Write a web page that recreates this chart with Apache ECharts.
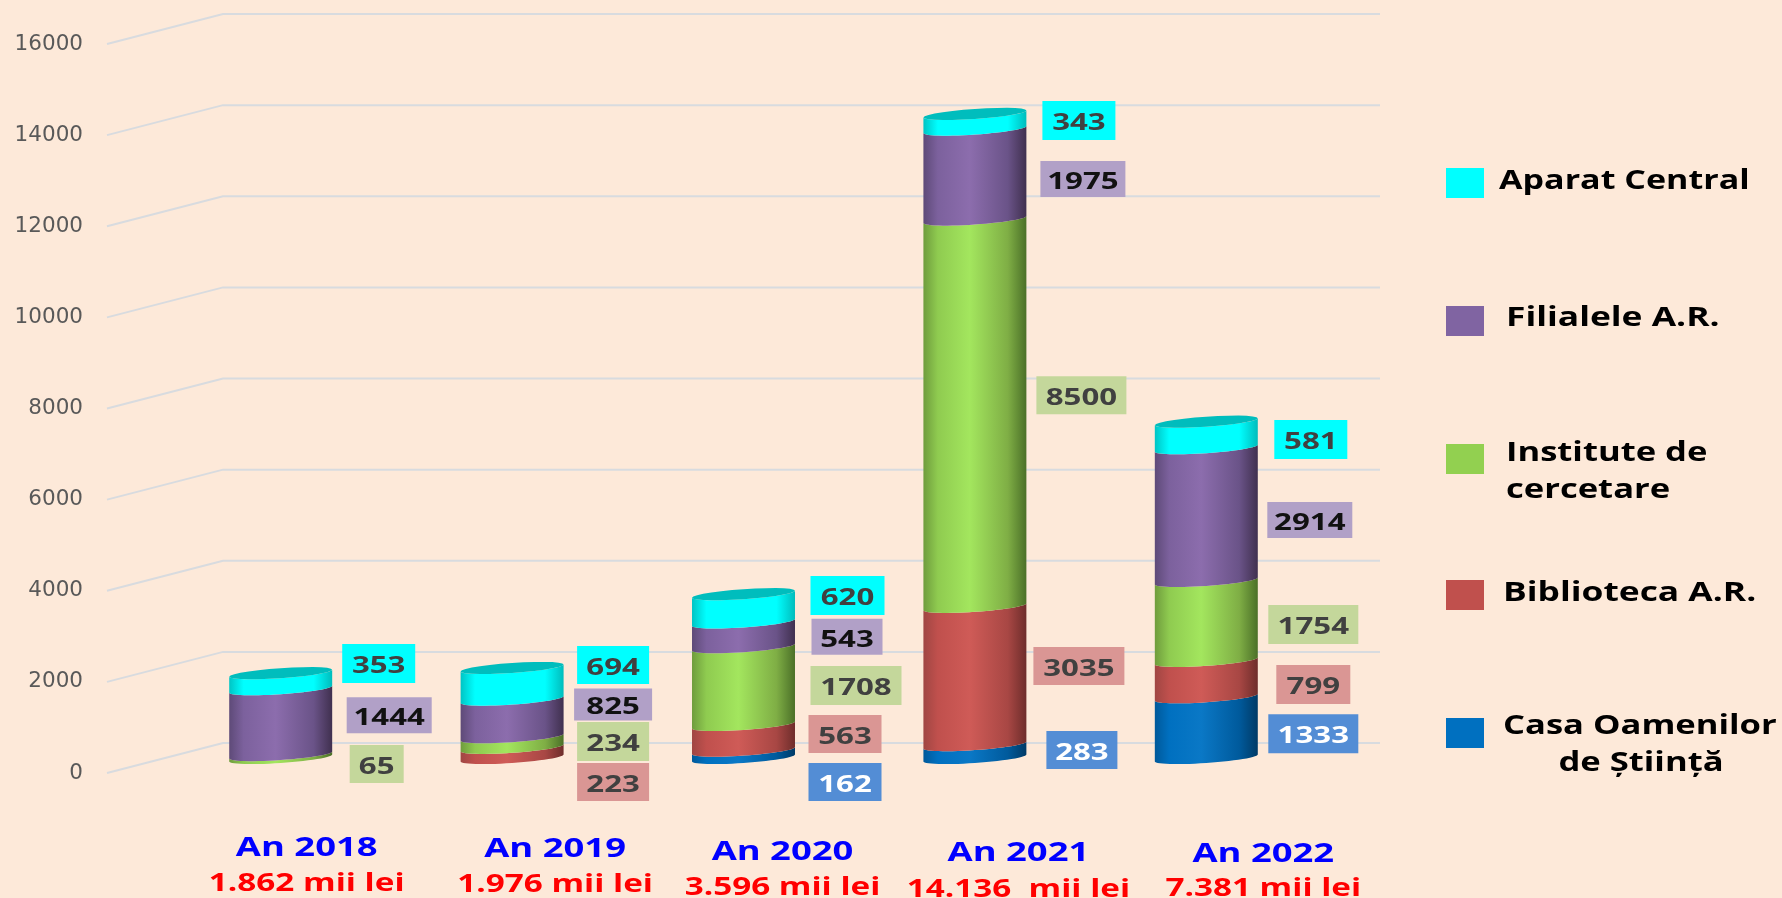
<!DOCTYPE html>
<html><head><meta charset="utf-8">
<style>html,body{margin:0;padding:0;background:#FDE9D9}#c{width:1782px;height:898px}</style>
<script src="https://cdn.jsdelivr.net/npm/echarts@6/dist/echarts.min.js"></script>
</head><body><div id="c"></div>
<script>
// ---- data ----
const categories = ['An 2018','An 2019','An 2020','An 2021','An 2022'];
const totals = ['1.862 mii lei','1.976 mii lei','3.596 mii lei','14.136  mii lei','7.381 mii lei'];
const yTicks = [0,2000,4000,6000,8000,10000,12000,14000,16000];
const casaOamenilor = [0,0,162,283,1333];
const biblioteca = [0,223,563,3035,799];
const institute = [65,234,1708,8500,1754];
const filialele = [1444,825,543,1975,2914];
const aparatCentral = [353,694,620,343,581];

// ---- presentation ----
const DEPTH_X = 116, DEPTH_Y = 30;           // oblique depth of the floor
const seriesDefs = [
 {name:'Casa Oamenilor de Știință', values:casaOamenilor, color:'#0070C0',
  stops:['#00599a','#0070c0','#0a78c6','#005a9c','#003a66'], box:'#538DD5', txt:'#FFFFFF',
  boxes:[null,null,[101.5,27.7,73,38],[107,-1.6,71,38],[107,6,90,39]]},
 {name:'Biblioteca A.R.', values:biblioteca, color:'#C0504D',
  stops:['#a04643','#c0504d','#cf5b57','#a84744','#6e2d2b'], box:'#DA9694', txt:'#404040',
  boxes:[null,[101,29,72,38],[101.5,-3.8,73,38],[104,-10,91,38],[107,5.4,74,39]]},
 {name:'Institute de cercetare', values:institute, color:'#92D050',
  stops:['#6f9c3d','#8fcb50','#a3e65e','#7fae45','#4b7028'], box:'#C4D79B', txt:'#404040',
  boxes:[[96,7.5,54,38],[101,-1,72,39],[112.5,-.6,91,39],[106.5,-18,90,38],[107,3.6,90,39]]},
 {name:'Filialele A.R.', values:filialele, color:'#8064A2',
  stops:['#5e4a78','#7c619d','#8c6dad','#6a5388','#40304f'], box:'#B1A0C7', txt:'#111111',
  boxes:[[108.5,-7,85,36],[101,-14,78,32],[103.5,2,71,36],[108,4.4,85,36],[103.5,5.4,85,36]]},
 {name:'Aparat Central', values:aparatCentral, color:'#00FFFF',
  stops:['#00c4c4','#00ffff','#00ffff','#00ffff','#00bcbc'], box:'#00FFFF', txt:'#404040',
  boxes:[[98,-17.7,73,39],[101,-18.8,72,38],[104,-12.8,74,39],[104,-1.3,73,39],[104.5,4.5,73,39]]}
];
const xLabelOffsets = [[26,75.5,110.5],[43,76.5,111.5],[39,79.5,114.5],[43.5,80.5,116.5],[57,81.5,115.5]];
const legendSwatches = [
 {i:4,left:1446,top:168},{i:3,left:1446,top:306},{i:2,left:1446,top:444},{i:1,left:1446,top:580},{i:0,left:1446,top:718}
];
const legendLines = [
 {t:'Aparat Central',x:1499,y:182,a:'left',s:1.31},
 {t:'Filialele A.R.',x:1506,y:319,a:'left',s:1.36},
 {t:'Institute de',x:1506,y:454,a:'left',s:1.33},
 {t:'cercetare',x:1506,y:491,a:'left',s:1.33},
 {t:'Biblioteca A.R.',x:1503,y:594,a:'left',s:1.36},
 {t:'Casa Oamenilor',x:1503,y:727,a:'left',s:1.33},
 {t:'de Știință',x:1641,y:764,a:'center',s:1.33}
];
const FONT = '"Open Sans", "Noto Sans", sans-serif';
const TILT = 3.5, RIM = 5, STEPS = 28;

function arc(cx, y, r, from, to) {
  const pts = [];
  for (let k = 0; k <= STEPS; k++) {
    const t = from + (to - from) * k / STEPS;
    pts.push([cx + r * Math.cos(t), y - TILT * Math.cos(t) + RIM * Math.sin(t)]);
  }
  return pts;
}
function shade(stops) {
  return new echarts.graphic.LinearGradient(0,0,1,0,[
    {offset:0,color:stops[0]},{offset:.14,color:stops[1]},{offset:.45,color:stops[2]},
    {offset:.82,color:stops[3]},{offset:1,color:stops[4]}]);
}
function stackedData(idx) {
  return categories.map((c,i) => {
    let lo = 0;
    for (let s = 0; s < idx; s++) lo += seriesDefs[s].values[i];
    return [i, lo, lo + seriesDefs[idx].values[i], seriesDefs[idx].values[i]];
  });
}
function bodyItem(idx) {
  const def = seriesDefs[idx];
  return function (params, api) {
    const i = api.value(0), lo = api.value(1), hi = api.value(2), v = api.value(3);
    if (!v) return null;
    const pLo = api.coord([i, lo]), pHi = api.coord([i, hi]);
    const r = api.size([1,0])[0] * 0.2225;
    const cx = pLo[0] + DEPTH_X / 2;
    const y0 = pLo[1] - DEPTH_Y / 2, y1 = pHi[1] - DEPTH_Y / 2;
    const kids = [{
      type:'polygon', shape:{points: arc(cx,y0,r,Math.PI,0).concat(arc(cx,y1,r,0,Math.PI))},
      style:{fill: shade(def.stops)}
    }];
    if (idx === seriesDefs.length - 1) {
      kids.push({type:'polygon', shape:{points: arc(cx,y1,r,0,Math.PI*2)},
                 style:{fill:'#00BDBD'}});
    }
    const b = def.boxes[i];
    if (b) {
      const bx = cx + b[0], by = (y0 + y1) / 2 + b[1];
      kids.push({type:'rect', z2:5, shape:{x:bx-b[2]/2,y:by-b[3]/2,width:b[2],height:b[3]}, style:{fill:def.box}});
      kids.push({type:'text', z2:6, x:bx, y:by+3, scaleX:1.3,
        style:{text:String(v), fill:def.txt, font:'700 24px '+FONT, textAlign:'center', textVerticalAlign:'middle'}});
    }
    return {type:'group', children:kids};
  };
}
const barSeries = seriesDefs.map((d,idx) => ({
  type:'custom', name:d.name, coordinateSystem:'cartesian2d', z:3,
  itemStyle:{color:d.color}, renderItem: bodyItem(idx),
  encode:{x:0,y:[1,2]}, data: stackedData(idx), clip:false, silent:true
}));
const gridSeries = {
  type:'custom', name:'gridlines', coordinateSystem:'cartesian2d', z:1, silent:true,
  data: yTicks.map(v => [0,v]), encode:{x:0,y:1}, clip:false,
  renderItem(params, api){
    const rect = params.coordSys, y = api.coord([0, api.value(1)])[1];
    return {type:'polyline', shape:{points:[[rect.x,y],[rect.x+DEPTH_X,y-DEPTH_Y],[rect.x+rect.width+DEPTH_X,y-DEPTH_Y]]},
      style:{stroke:'#D8DBDF', lineWidth:2, fill:'none'}};
  }
};
const xLabelSeries = {
  type:'custom', name:'categories', coordinateSystem:'cartesian2d', z:4, silent:true,
  data: categories.map((c,i)=>[i,0]), encode:{x:0,y:1}, clip:false,
  renderItem(params, api){
    const i = api.value(0), p = api.coord([i,0]), o = xLabelOffsets[i], cx = p[0]+DEPTH_X/2+o[0];
    return {type:'group', children:[
      {type:'text', x:cx, y:p[1]+o[1], scaleX:1.4,
       style:{text:categories[i], fill:'#0000FF', font:'700 26px '+FONT, textAlign:'center', textVerticalAlign:'middle'}},
      {type:'text', x:cx, y:p[1]+o[2], scaleX:1.33,
       style:{text:totals[i], fill:'#FF0000', font:'700 25px '+FONT, textAlign:'center', textVerticalAlign:'middle'}}
    ]};
  }
};
const chart = echarts.init(document.getElementById('c'));
chart.setOption({
  backgroundColor:'#FDE9D9',
  animation:false,
  grid:{left:107, top:44, width:1157, height:729, containLabel:false},
  xAxis:{type:'category', data:categories, axisLine:{show:false}, axisTick:{show:false}, axisLabel:{show:false}, splitLine:{show:false}},
  yAxis:{type:'value', min:0, max:16000, interval:2000, axisLine:{show:false}, axisTick:{show:false}, splitLine:{show:false},
         axisLabel:{margin:24, color:'#595959', fontFamily:'DejaVu Sans', fontSize:21.5, padding:[5,0,0,0], formatter:v=>String(v)}},
  legend: legendSwatches.map(l => ({
    left:l.left, top:l.top, orient:'vertical', padding:0, selectedMode:false,
    itemWidth:38, itemHeight:30, icon:'rect',
    data:[seriesDefs[l.i].name], formatter:()=>''
  })),
  graphic: legendLines.map(l => ({
    type:'text', x:l.x, y:l.y, scaleX:l.s, silent:true,
    style:{text:l.t, fill:'#000', font:'700 26px '+FONT, textAlign:l.a, textVerticalAlign:'middle'}
  })),
  series:[gridSeries].concat(barSeries, [xLabelSeries])
});
</script></body></html>
